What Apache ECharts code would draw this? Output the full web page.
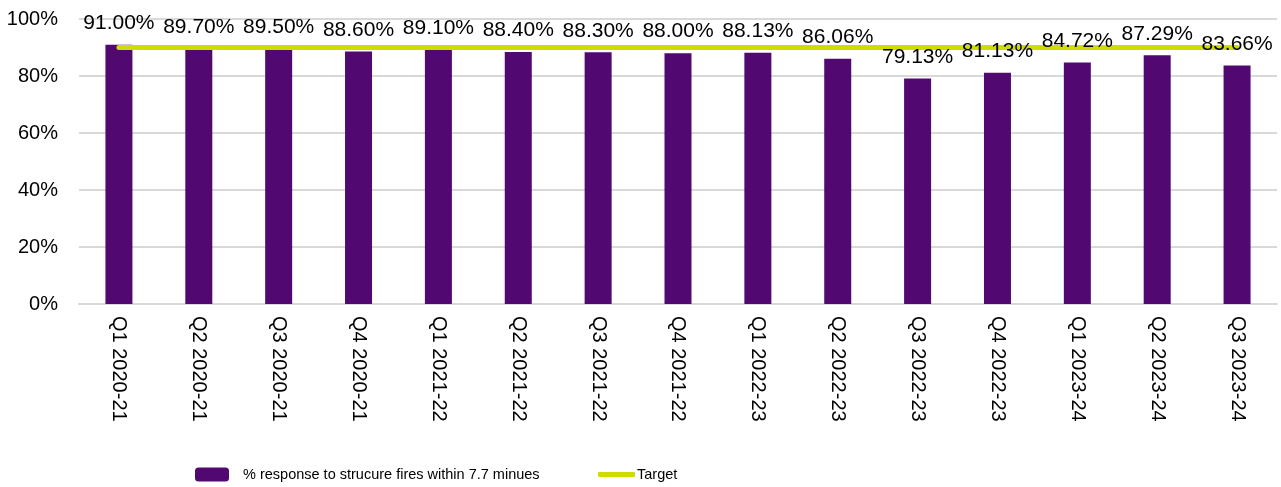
<!DOCTYPE html>
<html>
<head>
<meta charset="utf-8">
<style>
  html, body { margin: 0; padding: 0; background: #fff; }
  #chart { width: 1281px; height: 487px; }
</style>
<script src="https://cdn.jsdelivr.net/npm/echarts@6/dist/echarts.min.js"></script>
</head>
<body>
<div id="chart"></div>
<script>
// Quarterly categories
const quarters = [
  'Q1 2020-21', 'Q2 2020-21', 'Q3 2020-21', 'Q4 2020-21',
  'Q1 2021-22', 'Q2 2021-22', 'Q3 2021-22', 'Q4 2021-22',
  'Q1 2022-23', 'Q2 2022-23', 'Q3 2022-23', 'Q4 2022-23',
  'Q1 2023-24', 'Q2 2023-24', 'Q3 2023-24'
];

// % of structure fire responses within 7.7 minutes
const responseRate = [
  91.00, 89.70, 89.50, 88.60, 89.10, 88.40, 88.30, 88.00,
  88.13, 86.06, 79.13, 81.13, 84.72, 87.29, 83.66
];

// Target level for every quarter
const targetRate = [90, 90, 90, 90, 90, 90, 90, 90, 90, 90, 90, 90, 90, 90, 90];

// Y axis ticks
const yMin = 0;
const yMax = 100;
const yStep = 20;

const barName = '% response to strucure fires within 7.7 minues';
const lineName = 'Target';

const font = '"Liberation Sans", Arial, sans-serif';

const chart = echarts.init(document.getElementById('chart'), null, { renderer: 'canvas' });

chart.setOption({
  animation: false,
  backgroundColor: '#ffffff',
  textStyle: { fontFamily: font },
  grid: { left: 79, right: 4, top: 19, bottom: 183, containLabel: false },
  legend: [
    {
      data: [barName],
      left: 195,
      top: 467,
      padding: 0,
      itemWidth: 34,
      itemHeight: 14,
      icon: 'roundRect',
      textStyle: { fontFamily: font, fontSize: 14.5, color: '#000', padding: [0, 0, 0, 9] }
    },
    {
      data: [lineName],
      left: 598,
      top: 467,
      padding: 0,
      itemWidth: 37,
      itemHeight: 5,
      icon: 'roundRect',
      textStyle: { fontFamily: font, fontSize: 14.5, color: '#000', padding: [0, 0, 0, -3] }
    }
  ],
  xAxis: {
    type: 'category',
    data: quarters,
    boundaryGap: true,
    axisLine: { show: true, lineStyle: { color: '#d9d9d9', width: 2 } },
    axisTick: { show: false },
    axisLabel: {
      rotate: -90,
      margin: 12,
      fontSize: 20,
      color: '#000',
      fontFamily: font,
      interval: 0
    }
  },
  yAxis: {
    type: 'value',
    min: yMin,
    max: yMax,
    interval: yStep,
    axisLine: { show: false },
    axisTick: { show: false },
    splitLine: { lineStyle: { color: '#d9d9d9', width: 2 } },
    axisLabel: {
      formatter: '{value}%',
      fontSize: 20,
      margin: 21,
      color: '#000',
      fontFamily: font
    }
  },
  series: [
    {
      name: barName,
      type: 'bar',
      data: responseRate,
      barWidth: 27,
      itemStyle: { color: '#510870' },
      z: 2
    },
    {
      name: lineName,
      type: 'line',
      data: targetRate,
      symbol: 'none',
      z: 3,
      lineStyle: { color: '#cfdc00', width: 5, cap: 'round' },
      itemStyle: { color: '#cfdc00' }
    },
    {
      // value labels, kept on a transparent overlay so they sit above the target line
      name: 'labels',
      type: 'bar',
      data: responseRate,
      barWidth: 27,
      barGap: '-100%',
      itemStyle: { color: 'rgba(0,0,0,0)' },
      z: 4,
      silent: true,
      label: {
        show: true,
        position: 'top',
        distance: 11,
        fontSize: 21,
        color: '#000',
        fontFamily: font,
        formatter: p => p.value.toFixed(2) + '%'
      }
    }
  ]
});
</script>
</body>
</html>
